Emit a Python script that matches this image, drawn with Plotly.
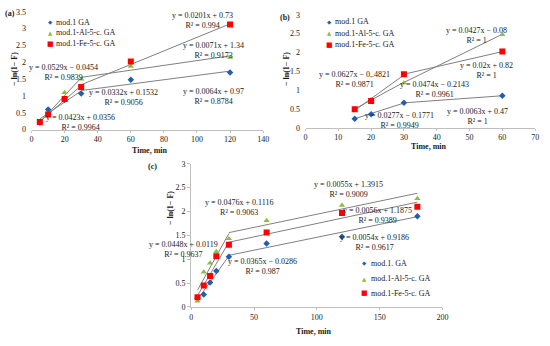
import plotly.graph_objects as go

W, H = 550, 346

# ---------------- data ----------------
# Panel (a)
a_time = [5, 10, 20, 30, 60, 120]
a_ga = [0.21, 0.60, 0.88, 1.07, 1.48, 1.70]
a_al = [0.17, 0.45, 1.10, 1.50, 1.88, 2.15]
a_fe = [0.23, 0.45, 0.91, 1.27, 2.02, 3.12]
# trendlines: slope, intercept, x-start, x-end
a_fit_ga = [(0.0332, 0.1532, 5, 30), (0.0064, 0.97, 30, 120)]
a_fit_al = [(0.0529, -0.0454, 5, 30), (0.0071, 1.34, 30, 120)]
a_fit_fe = [(0.0423, 0.0356, 5, 30), (0.0201, 0.73, 30, 120)]
a_labels = [
    ("y = 0.0201x + 0.73", "R² = 0.994"),
    ("y = 0.0071x + 1.34", "R² = 0.9173"),
    ("y = 0.0529x − 0.0454", "R² = 0.9839"),
    ("y = 0.0332x + 0.1532", "R² = 0.9056"),
    ("y = 0.0064x + 0.97", "R² = 0.8784"),
    ("y = 0.0423x + 0.0356", "R² = 0.9964"),
]

# Panel (b)
b_time = [15, 20, 30, 60]
b_ga = [0.24, 0.36, 0.66, 0.85]
b_al = [0.47, 0.75, 1.19, 2.47]
b_fe = [0.49, 0.71, 1.42, 2.02]
b_fit_ga = [(0.0277, -0.1771, 15, 30), (0.0063, 0.47, 30, 60)]
b_fit_al = [(0.0474, -0.2143, 15, 30), (0.0427, -0.08, 30, 60)]
b_fit_fe = [(0.0627, -0.4821, 15, 30), (0.02, 0.82, 30, 60)]
b_labels = [
    ("y = 0.0427x − 0.08", "R² = 1"),
    ("y = 0.02x + 0.82", "R² = 1"),
    ("y = 0.0627x − 0,.4821", "R² = 0.9871"),
    ("y = 0.0474x − 0.2143", "R² = 0.9961"),
    ("y = 0.0277x − 0.1771", "R² = 0.9949"),
    ("y = 0.0063x + 0.47", "R² = 1"),
]

# Panel (c)
c_time = [5, 10, 15, 20, 30, 60, 120, 180]
c_ga = [0.18, 0.26, 0.51, 0.75, 1.05, 1.33, 1.47, 1.90]
c_al = [0.12, 0.73, 0.92, 1.16, 1.43, 1.81, 2.13, 2.27]
c_fe = [0.20, 0.45, 0.65, 1.06, 1.30, 1.56, 1.97, 2.10]
c_fit_ga = [(0.0365, -0.0286, 5, 30), (0.0054, 0.9186, 30, 180)]
c_fit_al = [(0.0476, 0.1116, 5, 30), (0.0055, 1.3915, 30, 180)]
c_fit_fe = [(0.0448, 0.0119, 5, 30), (0.0056, 1.1875, 30, 180)]
c_labels = [
    ("y = 0.0055x + 1.3915", "R² = 0.9009"),
    ("y = 0.0476x + 0.1116", "R² = 0.9063"),
    ("y = 0.0056x + 1.1875", "R² = 0.9389"),
    ("y = 0.0448x + 0.0119", "R² = 0.9637"),
    ("y = 0.0054x + 0.9186", "R² = 0.9617"),
    ("y = 0.0365x − 0.0286", "R² = 0.987"),
]

names_ab = ["mod.1 GA", "mod.1-Al-5-c. GA", "mod.1-Fe-5-c. GA"]
names_c = ["mod.1. GA", "mod.1-Al-5-c. GA", "mod.1-Fe-5-c. GA"]

# ---------------- styling ----------------
FONT = "Liberation Serif"
TXT = "#1a1a1a"
AX = "#bfbfbf"
BLUE, GREEN, RED = "#1f5fae", "#8cbb3f", "#ff0000"
TREND = "#808080"
FS = 8


def px(x):
    return x / W


def py(y):
    return 1 - y / H


fig = go.Figure()


def add_panel(xa, ya, t, series, fits):
    symbols = ["diamond", "triangle-up", "square"]
    colors = [BLUE, GREEN, RED]
    sizes = [5, 5.5, 6]
    for fit in fits:
        for slope, icpt, x0, x1 in fit:
            fig.add_trace(go.Scatter(
                x=[x0, x1], y=[slope * x0 + icpt, slope * x1 + icpt],
                mode="lines", line=dict(color=TREND, width=1),
                xaxis=xa, yaxis=ya, showlegend=False, hoverinfo="skip"))
    for vals, sym, col, sz in zip(series, symbols, colors, sizes):
        fig.add_trace(go.Scatter(
            x=t, y=vals, mode="markers",
            marker=dict(symbol=sym, color=col, size=sz, line=dict(width=0)),
            xaxis=xa, yaxis=ya, showlegend=False))


add_panel("x", "y", a_time, [a_ga, a_al, a_fe], [a_fit_ga, a_fit_al, a_fit_fe])
add_panel("x2", "y2", b_time, [b_ga, b_al, b_fe], [b_fit_ga, b_fit_al, b_fit_fe])
add_panel("x3", "y3", c_time, [c_ga, c_al, c_fe], [c_fit_ga, c_fit_al, c_fit_fe])

tickfont = dict(family=FONT, size=FS, color=TXT)


def xaxis(dom, rng, dt, anchor):
    return dict(domain=dom, range=rng, dtick=dt, tick0=0, anchor=anchor,
                showline=True, linecolor=AX, linewidth=1, ticks="outside",
                ticklen=2, tickcolor=AX, showgrid=False, zeroline=False,
                tickfont=tickfont, fixedrange=True, ticklabeloverflow="allow")


def yaxis(dom, rng, dt, anchor, line):
    return dict(domain=dom, range=rng, dtick=dt, tick0=0, anchor=anchor,
                showline=line, linecolor=AX, linewidth=1, ticks="outside",
                ticklen=3, tickcolor=AX if line else "rgba(0,0,0,0)",
                showgrid=False, zeroline=False, tickfont=tickfont,
                fixedrange=True, ticklabeloverflow="allow")


fig.update_layout(
    width=W, height=H, margin=dict(l=0, r=0, t=0, b=0),
    paper_bgcolor="white", plot_bgcolor="white", showlegend=False,
    font=dict(family=FONT, size=FS, color=TXT),
    xaxis=xaxis([px(30), px(265)], [0, 140], 20, "y"),
    yaxis=yaxis([py(129), py(8)], [0, 3.5], 0.5, "x", False),
    xaxis2=xaxis([px(308), px(541)], [0, 70], 10, "y2"),
    yaxis2=yaxis([py(127), py(11)], [0, 3], 0.5, "x2", False),
    xaxis3=xaxis([px(192), px(447)], [0, 200], 50, "y3"),
    yaxis3=yaxis([py(311), py(164)], [0, 3], 0.5, "x3", True),
)

ann = []


def text(x, y, s, size=FS, bold=False, anchor="center", angle=0, color=TXT):
    if bold:
        s = "<b>" + s + "</b>"
    ann.append(dict(x=px(x), y=py(y), xref="paper", yref="paper", text=s,
                    showarrow=False, xanchor=anchor, yanchor="middle",
                    textangle=angle, font=dict(family=FONT, size=size, color=color)))


# equation labels (pixel centres)
a_pos = [(203, 16.7), (215, 48), (62, 70), (123, 95.5), (215, 95), (80, 121.5)]
b_pos = [(482, 32), (492, 68.5), (358, 77.5), (439, 87.5), (403, 120), (483, 116)]
c_pos = [(352, 190), (240, 208.5), (381, 217.5), (184, 252.5), (378, 244.5), (264, 270)]
for labels, pos in ((a_labels, a_pos), (b_labels, b_pos), (c_labels, c_pos)):
    for (l1, l2), (x, y) in zip(labels, pos):
        text(x, y, l1 + "<br>" + l2)

# panel letters, axis titles
text(8, 10, "(a)", bold=True)
text(287, 14, "(b)", bold=True)
text(153, 167, "(c)", bold=True)
for x, y in ((12, 67), (288, 67), (171, 210)):
    text(x, y, "− ln(1− F)", bold=True, angle=-90)
for x, y in ((150, 150), (433, 146), (317, 336)):
    text(x, y, "Time, min", bold=True)

# legends
glyphs = ["◆", "▲", "■"]
gcols = [BLUE, GREEN, RED]
gsize = [5.5, 5.5, 7]


def legend(x, ys, names):
    for g, c, gs, n, y in zip(glyphs, gcols, gsize, names, ys):
        ann.append(dict(x=px(x), y=py(y), xref="paper", yref="paper", text=g,
                        showarrow=False, xanchor="center", yanchor="middle",
                        font=dict(family="DejaVu Sans", size=gs, color=c)))
        text(x + 4, y, n, anchor="left")


legend(49, [18.7, 29.3, 40.7], names_ab)
legend(332, [18, 30, 42], names_ab)
legend(368, [266, 282, 297], names_c)

fig.update_layout(annotations=ann)
fig.write_html("out.html", config={"displayModeBar": False},
               post_script="document.body.style.margin='0';document.body.style.overflow='hidden';")
